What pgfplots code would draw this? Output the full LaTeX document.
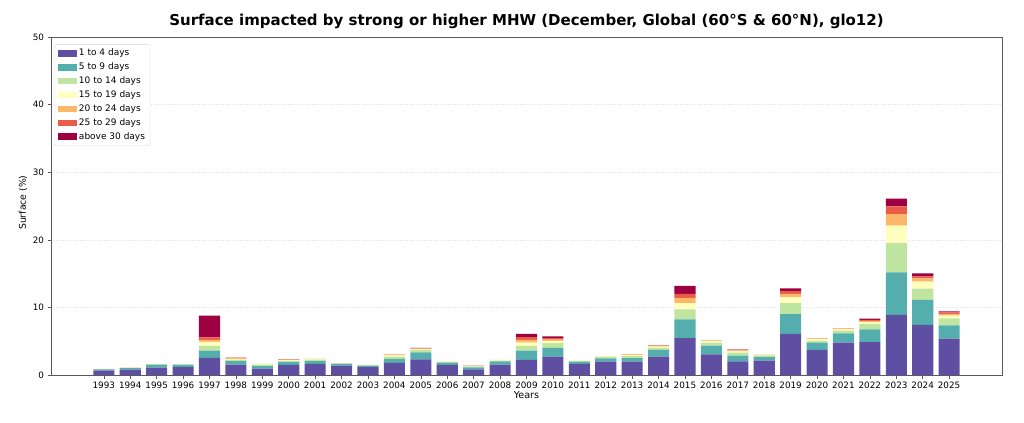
\documentclass[border=0pt]{standalone}
\usepackage{pgfplots}
\pgfplotsset{compat=1.18}
\usepackage{pgfplotstable}
\usepackage{fontspec}
\setmainfont{DejaVu Sans}

\definecolor{cA}{HTML}{5E4FA2}
\definecolor{cB}{HTML}{54AEAD}
\definecolor{cC}{HTML}{BFE5A0}
\definecolor{cD}{HTML}{FFFFBE}
\definecolor{cE}{HTML}{FDB768}
\definecolor{cF}{HTML}{E95C47}
\definecolor{cG}{HTML}{9E0142}

% surface (%) per duration class, stacked
\pgfplotstableread{
year a b c d e f g
1993 0.64 0.18 0.05 0.02 0.01 0 0
1994 0.78 0.22 0.05 0.02 0.01 0 0
1995 1.08 0.40 0.12 0.03 0 0 0
1996 1.18 0.30 0.08 0.02 0 0 0
1997 2.55 1.05 0.70 0.60 0.30 0.35 3.25
1998 1.52 0.55 0.20 0.13 0.12 0.04 0.02
1999 0.93 0.40 0.20 0.08 0.02 0 0
2000 1.48 0.44 0.15 0.08 0.10 0.07 0
2001 1.63 0.44 0.20 0.15 0.05 0 0
2002 1.38 0.25 0.10 0.05 0 0 0
2003 1.18 0.20 0.07 0.03 0 0 0
2004 1.78 0.59 0.34 0.19 0.15 0.05 0
2005 2.32 1.03 0.35 0.12 0.08 0.08 0.02
2006 1.48 0.34 0.12 0.06 0.02 0 0
2007 0.84 0.29 0.14 0.08 0.05 0.03 0
2008 1.53 0.49 0.12 0.06 0.02 0 0
2009 2.22 1.38 0.70 0.48 0.42 0.40 0.47
2010 2.71 1.29 0.70 0.35 0.20 0.20 0.25
2011 1.63 0.35 0.12 0.05 0 0 0
2012 1.97 0.50 0.20 0.08 0.03 0 0
2013 1.97 0.54 0.29 0.15 0.10 0.05 0
2014 2.70 1.00 0.30 0.20 0.12 0.07 0
2015 5.47 2.77 1.48 0.93 0.75 0.60 1.17
2016 3.06 1.29 0.43 0.22 0.10 0.03 0
2017 2.03 0.84 0.43 0.20 0.15 0.10 0.05
2018 2.11 0.55 0.24 0.10 0.06 0 0
2019 6.07 2.95 1.63 0.85 0.50 0.40 0.40
2020 3.70 1.08 0.27 0.25 0.12 0.05 0
2021 4.78 1.39 0.38 0.20 0.15 0.05 0
2022 4.88 1.88 0.78 0.30 0.16 0.15 0.18
2023 8.88 6.31 4.31 2.60 1.70 1.15 1.15
2024 7.40 3.70 1.67 1.03 0.50 0.30 0.44
2025 5.37 1.98 1.04 0.41 0.25 0.20 0.17
}\mhw

\begin{document}
\begin{tikzpicture}
\useasboundingbox (-51bp,-48bp) rectangle (973bp,375bp);
\begin{axis}[
  at={(0,0)}, anchor=south west,
  scale only axis, width=951bp, height=338bp,
  ybar stacked, bar width=0.8,
  xmin=1991, xmax=2027,
  ymin=0, ymax=50,
  xtick={1993,...,2025},
  ytick={0,10,...,50},
  xtick pos=bottom, ytick pos=left,
  tick align=outside,
  major tick length=3.5bp,
  tick style={gray!70!black, line width=0.6bp},
  axis line style={gray!70!black, line width=0.6bp},
  ymajorgrids,
  major grid style={dotted, gray!22, line width=0.5bp},
  /pgf/number format/assume math mode=true,
  /pgf/number format/1000 sep={},
  ticklabel style={font=\fontsize{8.8bp}{10bp}\selectfont},
  xticklabel style={yshift=0.5bp},
  title={\bfseries Surface impacted by strong or higher MHW (December, Global (60°S \& 60°N), glo12)},
  title style={font=\fontsize{15bp}{18bp}\selectfont, at={(axis description cs:0.5,1.028)}, anchor=center},
  xlabel={Years},
  xlabel style={font=\fontsize{9.6bp}{11bp}\selectfont, at={(axis description cs:0.5,-0.059)}, anchor=center},
  ylabel={Surface (\%)},
  ylabel style={font=\fontsize{9.3bp}{11bp}\selectfont, at={(axis description cs:-0.0294,0.51)}, anchor=center},
  legend style={at={(axis description cs:0.004,0.978)}, anchor=north west,
    font=\fontsize{9bp}{10.5bp}\selectfont, draw=gray!35, rounded corners=2bp,
    row sep=1.6bp, inner xsep=3bp, inner ysep=2.5bp,
    /tikz/every even column/.append style={column sep=2bp}},
  legend cell align=left,
  legend image code/.code={\fill[#1, sharp corners] (0bp,-3.3bp) rectangle (19bp,3.3bp);},
]
\addplot[fill=cA, draw=none] table[x=year, y=a] {\mhw};
\addplot[fill=cB, draw=none] table[x=year, y=b] {\mhw};
\addplot[fill=cC, draw=none] table[x=year, y=c] {\mhw};
\addplot[fill=cD, draw=none] table[x=year, y=d] {\mhw};
\addplot[fill=cE, draw=none] table[x=year, y=e] {\mhw};
\addplot[fill=cF, draw=none] table[x=year, y=f] {\mhw};
\addplot[fill=cG, draw=none] table[x=year, y=g] {\mhw};
\legend{1 to 4 days, 5 to 9 days, 10 to 14 days, 15 to 19 days, 20 to 24 days, 25 to 29 days, above 30 days}
\end{axis}
\end{tikzpicture}
\end{document}
